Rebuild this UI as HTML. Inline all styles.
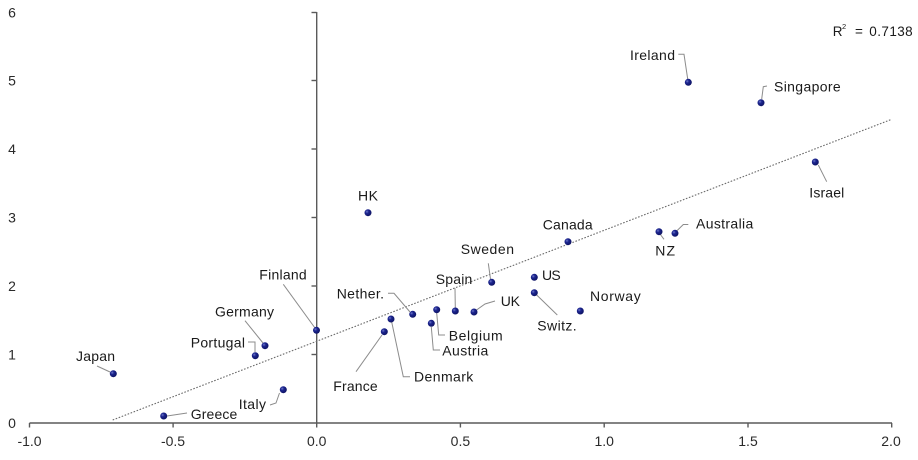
<!DOCTYPE html>
<html><head><meta charset="utf-8"><style>
html,body{margin:0;padding:0;background:#fff;}
svg{display:block;font-family:"Liberation Sans",Arial,sans-serif;}
.lb{font-size:14px;fill:#1a1a1a;}
.tk{font-size:14px;fill:#2a2a2a;}
.ld{stroke:#8c8c8c;stroke-width:1;fill:none;}
</style></head><body>
<svg width="918" height="460" viewBox="0 0 918 460" xmlns="http://www.w3.org/2000/svg">
<defs>
<radialGradient id="dg" cx="0.35" cy="0.35" r="0.7">
<stop offset="0" stop-color="#6f78c8"/><stop offset="0.35" stop-color="#1c2590"/><stop offset="1" stop-color="#0d1260"/>
</radialGradient>
</defs>
<!-- axes -->
<g stroke="#5a5a5a" stroke-width="1.4" fill="none">
<line x1="29.5" y1="423" x2="892" y2="423"/>
<line x1="316.7" y1="12" x2="316.7" y2="423"/>
<line x1="29.5" y1="423" x2="29.5" y2="427.5"/>
<line x1="173.1" y1="423" x2="173.1" y2="427.5"/>
<line x1="316.7" y1="423" x2="316.7" y2="427.5"/>
<line x1="460.4" y1="423" x2="460.4" y2="427.5"/>
<line x1="604.2" y1="423" x2="604.2" y2="427.5"/>
<line x1="748" y1="423" x2="748" y2="427.5"/>
<line x1="891.7" y1="423" x2="891.7" y2="427.5"/>
<line x1="311.5" y1="354.5" x2="316.7" y2="354.5"/>
<line x1="311.5" y1="286" x2="316.7" y2="286"/>
<line x1="311.5" y1="217.5" x2="316.7" y2="217.5"/>
<line x1="311.5" y1="149" x2="316.7" y2="149"/>
<line x1="311.5" y1="80.5" x2="316.7" y2="80.5"/>
<line x1="311.5" y1="12.5" x2="316.7" y2="12.5"/>
</g>
<!-- tick labels -->
<g class="tk" text-anchor="middle">
<text x="29.5" y="446">-1.0</text>
<text x="173" y="446">-0.5</text>
<text x="316.7" y="446">0.0</text>
<text x="460.4" y="446">0.5</text>
<text x="604.2" y="446">1.0</text>
<text x="748" y="446">1.5</text>
<text x="891" y="446">2.0</text>
<text x="12" y="428">0</text>
<text x="12" y="359.5">1</text>
<text x="12" y="291">2</text>
<text x="12" y="222.5">3</text>
<text x="12" y="154">4</text>
<text x="12" y="85.5">5</text>
<text x="12" y="17.5">6</text>
</g>
<!-- trend line -->
<line x1="112.7" y1="420" x2="891.7" y2="119.3" stroke="#6a6a6a" stroke-width="1.1" stroke-dasharray="1.6 1.6"/>
<!-- leaders -->
<g class="ld">
<line x1="97" y1="366" x2="110" y2="372"/>
<line x1="245" y1="320.7" x2="263" y2="343"/>
<polyline points="248,342 255,342 255,352"/>
<polyline points="270,405 276,403 279.5,393"/>
<line x1="167" y1="416" x2="187" y2="413"/>
<line x1="283.3" y1="284.3" x2="315" y2="328"/>
<polyline points="388,293.3 394,293.3 410,312"/>
<line x1="356" y1="371.7" x2="382" y2="335"/>
<polyline points="391.7,322 403.3,376.7 410,376.7"/>
<line x1="488.3" y1="263.3" x2="490.5" y2="279"/>
<line x1="455" y1="288.3" x2="455.3" y2="308"/>
<polyline points="476.5,310 485,304 495,301"/>
<polyline points="436.7,313 438.7,335 445,335"/>
<polyline points="431.3,327 433.3,350 440,350"/>
<line x1="536.7" y1="295" x2="557.3" y2="315"/>
<line x1="660" y1="234" x2="664" y2="239.3"/>
<polyline points="676.7,231 683.3,224.5 688.3,224.5"/>
<polyline points="678.3,54.3 684,54.3 687.7,79"/>
<polyline points="761.7,99 763.3,86.7 767,86"/>
<line x1="818.3" y1="165" x2="826.7" y2="181.7"/>
</g>
<!-- dots -->
<g fill="url(#dg)">
<circle cx="113.3" cy="373.7" r="3.5"/>
<circle cx="163.7" cy="416" r="3.5"/>
<circle cx="255.3" cy="355.7" r="3.5"/>
<circle cx="265" cy="345.7" r="3.5"/>
<circle cx="283.3" cy="389.7" r="3.5"/>
<circle cx="316.5" cy="330.3" r="3.5"/>
<circle cx="368" cy="212.7" r="3.5"/>
<circle cx="412.7" cy="314.3" r="3.5"/>
<circle cx="391" cy="319" r="3.5"/>
<circle cx="384.3" cy="331.7" r="3.5"/>
<circle cx="431.3" cy="323.3" r="3.5"/>
<circle cx="436.7" cy="309.7" r="3.5"/>
<circle cx="455.3" cy="311" r="3.5"/>
<circle cx="474" cy="312" r="3.5"/>
<circle cx="491.7" cy="282.3" r="3.5"/>
<circle cx="568" cy="241.7" r="3.5"/>
<circle cx="534.3" cy="277.3" r="3.5"/>
<circle cx="534.3" cy="292.7" r="3.5"/>
<circle cx="580.3" cy="311" r="3.5"/>
<circle cx="659" cy="231.7" r="3.5"/>
<circle cx="675" cy="233.3" r="3.5"/>
<circle cx="688.3" cy="82.3" r="3.5"/>
<circle cx="761" cy="102.7" r="3.5"/>
<circle cx="815.3" cy="162" r="3.5"/>
</g>
<!-- labels -->
<g class="lb">
<text x="76" y="361" textLength="39" lengthAdjust="spacing">Japan</text>
<text x="215" y="316.7" textLength="59" lengthAdjust="spacing">Germany</text>
<text x="190.7" y="347.7" textLength="54.3" lengthAdjust="spacing">Portugal</text>
<text x="238.7" y="409" textLength="27.3" lengthAdjust="spacing">Italy</text>
<text x="190.7" y="419" textLength="46.6" lengthAdjust="spacing">Greece</text>
<text x="259.3" y="279.3" textLength="47.4" lengthAdjust="spacing">Finland</text>
<text x="358" y="200.7" textLength="20" lengthAdjust="spacing">HK</text>
<text x="336.7" y="298.3" textLength="47.3" lengthAdjust="spacing">Nether.</text>
<text x="333.3" y="391" textLength="44.4" lengthAdjust="spacing">France</text>
<text x="414" y="381.7" textLength="59.3" lengthAdjust="spacing">Denmark</text>
<text x="460.7" y="254" textLength="53.3" lengthAdjust="spacing">Sweden</text>
<text x="435.7" y="284" textLength="36.6" lengthAdjust="spacing">Spain</text>
<text x="500.7" y="306" textLength="19.3" lengthAdjust="spacing">UK</text>
<text x="448.7" y="340.7" textLength="54" lengthAdjust="spacing">Belgium</text>
<text x="442.3" y="355.7" textLength="46" lengthAdjust="spacing">Austria</text>
<text x="542.7" y="229.3" textLength="50" lengthAdjust="spacing">Canada</text>
<text x="542" y="280" textLength="18.7" lengthAdjust="spacing">US</text>
<text x="537.3" y="330.7" textLength="39.4" lengthAdjust="spacing">Switz.</text>
<text x="590" y="301" textLength="50.7" lengthAdjust="spacing">Norway</text>
<text x="655.3" y="255.7" textLength="19.7" lengthAdjust="spacing">NZ</text>
<text x="696" y="228.3" textLength="57.3" lengthAdjust="spacing">Australia</text>
<text x="630" y="60" textLength="45" lengthAdjust="spacing">Ireland</text>
<text x="774" y="91.7" textLength="66.7" lengthAdjust="spacing">Singapore</text>
<text x="809.3" y="197.3" textLength="35" lengthAdjust="spacing">Israel</text>
</g>
<g fill="#1a1a1a">
<text x="832.7" y="36" font-size="13.5">R</text>
<text x="842" y="29" font-size="7.5">2</text>
<text x="855" y="36" font-size="13.5">=</text>
<text x="869.3" y="36" font-size="13.5" textLength="43.4" lengthAdjust="spacing">0.7138</text>
</g>
</svg>
</body></html>
